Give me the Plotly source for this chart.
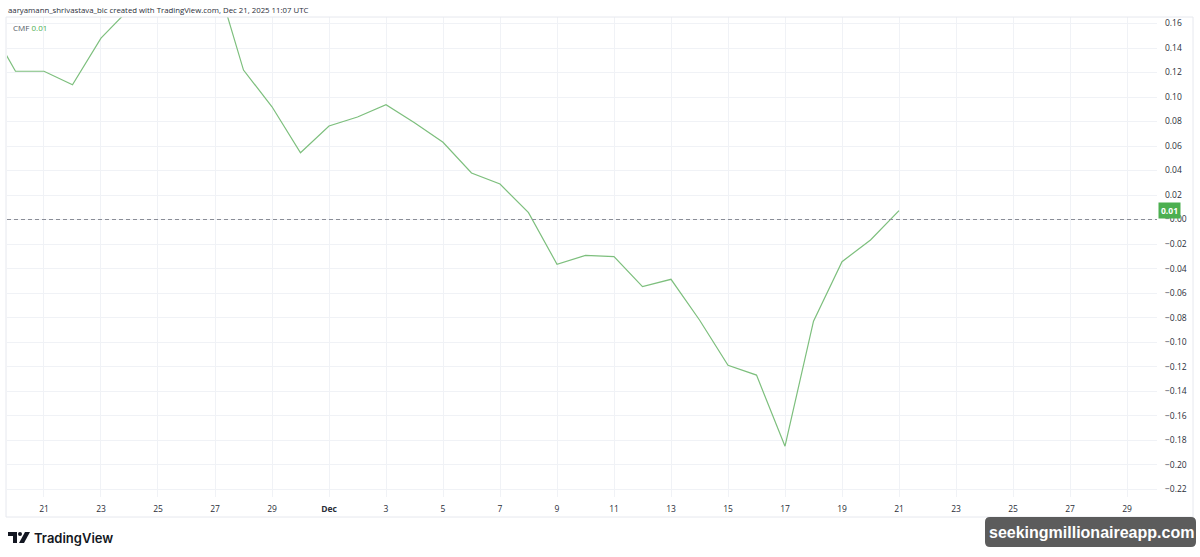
import plotly.graph_objects as go
import pandas as pd

# ---- data ----
dates = pd.date_range("2025-11-19", "2025-12-21", freq="D")
cmf_values = [0.162, 0.121, 0.121, 0.110, 0.148, 0.172, 0.190, 0.205, 0.200,
              0.122, 0.092, 0.0545, 0.0763, 0.0837, 0.0937, 0.079, 0.063,
              0.038, 0.029, 0.0056, -0.0365, -0.0293, -0.0303, -0.0548,
              -0.0488, -0.082, -0.119, -0.127, -0.185, -0.083, -0.0344,
              -0.0167, 0.0072]
x_tick_dates = pd.date_range("2025-11-21", "2025-12-29", freq="2D")
x_tick_labels = ["21", "23", "25", "27", "29", "<b>Dec</b>", "3", "5", "7", "9",
                 "11", "13", "15", "17", "19", "21", "23", "25", "27", "29"]
y_tick_vals = [round(-0.22 + 0.02 * i, 2) for i in range(20)]
y_tick_labels = [("−" if v <= 0 else "") + f"{abs(v):.2f}" for v in y_tick_vals]
last_value_label = "0.01"
header_text = "aaryamann_shrivastava_bic created with TradingView.com, Dec 21, 2025 11:07 UTC"

W, H = 1200, 557
L, R, T, B = 7, 1157, 17, 497


def px(x):
    return (x - L) / (R - L)


def py(y):
    return (B - y) / (B - T)


line_color = "#7dbf7d"
font_fam = "Open Sans, sans-serif"
fig = go.Figure()
fig.add_trace(go.Scatter(x=dates, y=cmf_values, mode="lines",
                         line=dict(color=line_color, width=1.2),
                         hoverinfo="skip", showlegend=False))

grid = "#f0f2f6"
fig.update_xaxes(range=[pd.Timestamp("2025-11-19 16:51"), pd.Timestamp("2025-12-30 01:15")],
                 tickvals=x_tick_dates, ticktext=x_tick_labels,
                 showgrid=True, gridcolor=grid, gridwidth=1, zeroline=False,
                 showline=False, ticks="", ticklabelstandoff=5,
                 tickfont=dict(family=font_fam, size=8.5, color="#2a2e39"))
fig.update_yaxes(range=[-0.2265, 0.1653], side="right", tickvals=y_tick_vals,
                 ticktext=y_tick_labels, showgrid=True, gridcolor=grid, gridwidth=1,
                 zeroline=False, showline=False, ticks="", ticklabelstandoff=7,
                 tickfont=dict(family=font_fam, size=8.5, color="#2a2e39"))

shapes = []
# zero dashed line
shapes.append(dict(type="line", xref="paper", yref="y", x0=0, x1=1, y0=0, y1=0,
                   line=dict(color="#8a8d96", width=1, dash="4px,3px")))
# widget border
shapes.append(dict(type="rect", xref="paper", yref="paper", x0=px(6), x1=px(1193),
                   y0=py(517), y1=py(17), line=dict(color="#e6e8ee", width=1)))
# TradingView logo
logo = "#131722"
shapes.append(dict(type="rect", xref="paper", yref="paper", x0=px(8), x1=px(17),
                   y0=py(536), y1=py(532), fillcolor=logo, line=dict(width=0)))
shapes.append(dict(type="rect", xref="paper", yref="paper", x0=px(13), x1=px(17),
                   y0=py(543), y1=py(532), fillcolor=logo, line=dict(width=0)))
shapes.append(dict(type="circle", xref="paper", yref="paper", x0=px(18), x1=px(22),
                   y0=py(536), y1=py(532), fillcolor=logo, line=dict(width=0)))
shapes.append(dict(type="path", xref="paper", yref="paper",
                   path=f"M {px(25)} {py(532)} L {px(30)} {py(532)} L {px(24)} {py(543)} L {px(19)} {py(543)} Z",
                   fillcolor=logo, line=dict(width=0)))
# watermark rounded box
x0, x1, y0, y1, r = 985, 1196, 517, 547, 5


def P(x, y):
    return f"{px(x)} {py(y)}"


path = (f"M {P(x0 + r, y0)} L {P(x1 - r, y0)} Q {P(x1, y0)} {P(x1, y0 + r)} "
        f"L {P(x1, y1 - r)} Q {P(x1, y1)} {P(x1 - r, y1)} L {P(x0 + r, y1)} "
        f"Q {P(x0, y1)} {P(x0, y1 - r)} L {P(x0, y0 + r)} Q {P(x0, y0)} {P(x0 + r, y0)} Z")
shapes.append(dict(type="path", xref="paper", yref="paper", path=path,
                   fillcolor="rgba(70,70,70,0.88)", line=dict(width=0)))

annotations = [
    dict(xref="paper", yref="paper", x=px(6), y=py(10), xanchor="left", yanchor="middle",
         text=header_text, showarrow=False,
         font=dict(family=font_fam, size=7.8, color="#2a2e39")),
    dict(xref="paper", yref="paper", x=px(11), y=py(27), xanchor="left", yanchor="middle",
         text=f"CMF <span style='color:#4caf50'>{last_value_label}</span>", showarrow=False,
         font=dict(family=font_fam, size=8, color="#555a66")),
    dict(xref="paper", yref="y", x=px(1158), y=cmf_values[-1], xanchor="left", yanchor="middle",
         text=f"<b>{last_value_label}</b>", showarrow=False, bgcolor="#4caf50",
         borderpad=2, font=dict(family=font_fam, size=8.5, color="white")),
    dict(xref="paper", yref="paper", x=px(32), y=py(537.5), xanchor="left", yanchor="middle",
         text="TradingView", showarrow=False,
         font=dict(family="Inter, Roboto, sans-serif", size=13, color="#131722", weight=600)),
    dict(xref="paper", yref="paper", x=px(1091), y=py(532), xanchor="center", yanchor="middle",
         text="<b>seekingmillionaireapp.com</b>", showarrow=False,
         font=dict(family="Liberation Sans, Arial, sans-serif", size=16, color="white")),
]

fig.update_layout(width=W, height=H, margin=dict(l=L, r=W - R, t=T, b=H - B),
                  paper_bgcolor="white", plot_bgcolor="white",
                  shapes=shapes, annotations=annotations, showlegend=False)

fig.write_html("out.html", config={"displayModeBar": False},
               post_script="document.body.style.margin='0px';document.body.style.overflow='hidden';")
